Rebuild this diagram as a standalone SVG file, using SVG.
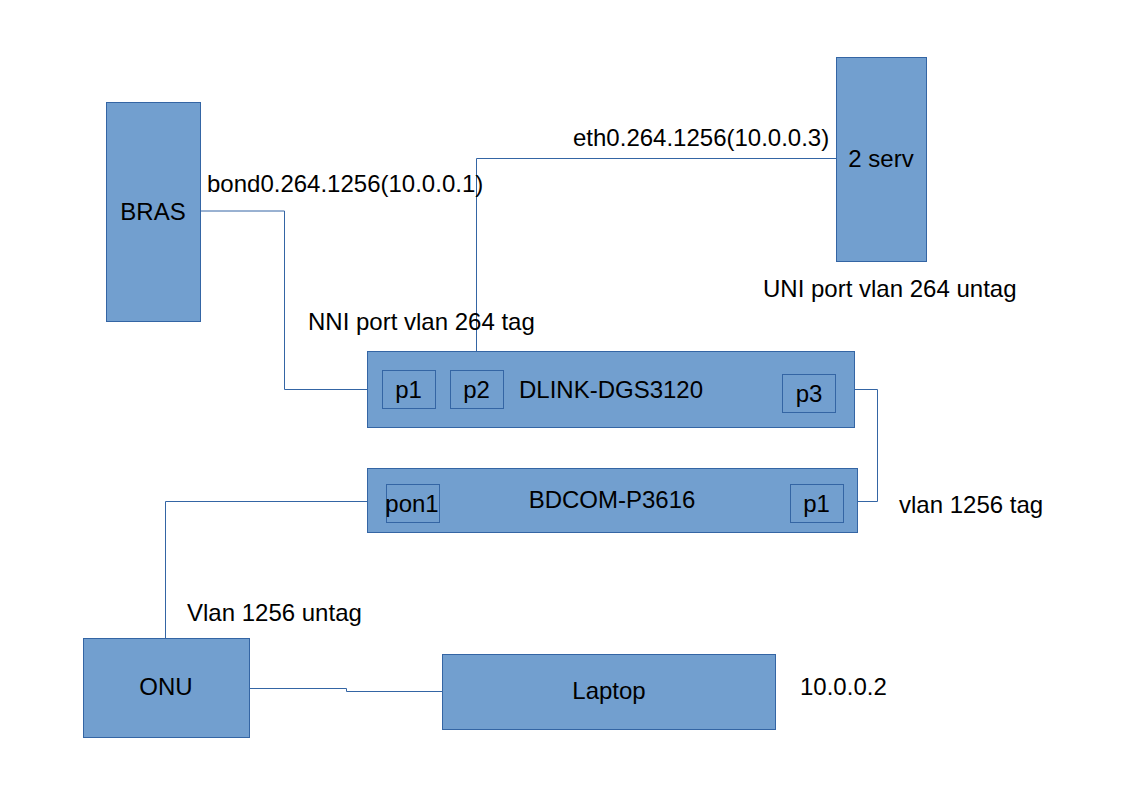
<svg xmlns="http://www.w3.org/2000/svg" width="1123" height="794" viewBox="0 0 1123 794">
<style>
.box{fill:#729fcf;stroke:#3465a4;stroke-width:1}
.port{fill:none;stroke:#3465a4;stroke-width:1}
.t{font-family:"Liberation Sans",Arial,sans-serif;font-size:24px;fill:#000}
.c{text-anchor:middle}
.wire{fill:none;stroke:#3465a4;stroke-width:1}
</style>
<rect width="1123" height="794" fill="#fff"/>
<g id="connectors">
<polyline class="wire" points="200,211 284.5,211 284.5,389.5 367,389.5"/>
<polyline class="wire" points="476.5,371 476.5,158.5 836,158.5"/>
<polyline class="wire" points="854,389.5 877.5,389.5 877.5,501.5 858,501.5"/>
<polyline class="wire" points="367,501.5 165.5,501.5 165.5,638"/>
<polyline class="wire" points="249,688.5 346.5,688.5 346.5,691.5 442,691.5"/>
</g>
<g id="bras">
<rect class="box" x="106.5" y="102.5" width="94" height="219"/>
<text class="t c" x="153" y="220">BRAS</text>
</g>
<g id="serv">
<rect class="box" x="836.5" y="57.5" width="90" height="204"/>
<text class="t c" x="881" y="167">2 serv</text>
</g>
<g id="dlink">
<rect class="box" x="367.5" y="351.5" width="487" height="76"/>
<rect class="port" x="382.5" y="370.5" width="53" height="38"/>
<rect class="port" x="450.5" y="370.5" width="53" height="38"/>
<rect class="port" x="782.5" y="374.5" width="53" height="38"/>
<text class="t c" x="408.5" y="398">p1</text>
<text class="t c" x="476.5" y="398">p2</text>
<text class="t c" x="809" y="402">p3</text>
<text class="t c" x="611" y="398">DLINK-DGS3120</text>
</g>
<g id="bdcom">
<rect class="box" x="367.5" y="468.5" width="490" height="64"/>
<rect class="port" x="386.5" y="484.5" width="53" height="38"/>
<rect class="port" x="790.5" y="484.5" width="53" height="38"/>
<text class="t c" x="412" y="512">pon1</text>
<text class="t c" x="816.5" y="512">p1</text>
<text class="t c" x="612" y="508">BDCOM-P3616</text>
</g>
<g id="onu">
<rect class="box" x="83.5" y="638.5" width="166" height="99"/>
<text class="t c" x="166" y="695">ONU</text>
</g>
<g id="laptop">
<rect class="box" x="442.5" y="654.5" width="333" height="75"/>
<text class="t c" x="609" y="699">Laptop</text>
</g>
<g id="labels">
<text class="t" x="207" y="192">bond0.264.1256(10.0.0.1)</text>
<text class="t" x="573" y="146">eth0.264.1256(10.0.0.3)</text>
<text class="t" x="763" y="297">UNI port vlan 264 untag</text>
<text class="t" x="308" y="330">NNI port vlan 264 tag</text>
<text class="t" x="899" y="513">vlan 1256 tag</text>
<text class="t" x="187" y="621">Vlan 1256 untag</text>
<text class="t" x="800" y="695">10.0.0.2</text>
</g>
</svg>
